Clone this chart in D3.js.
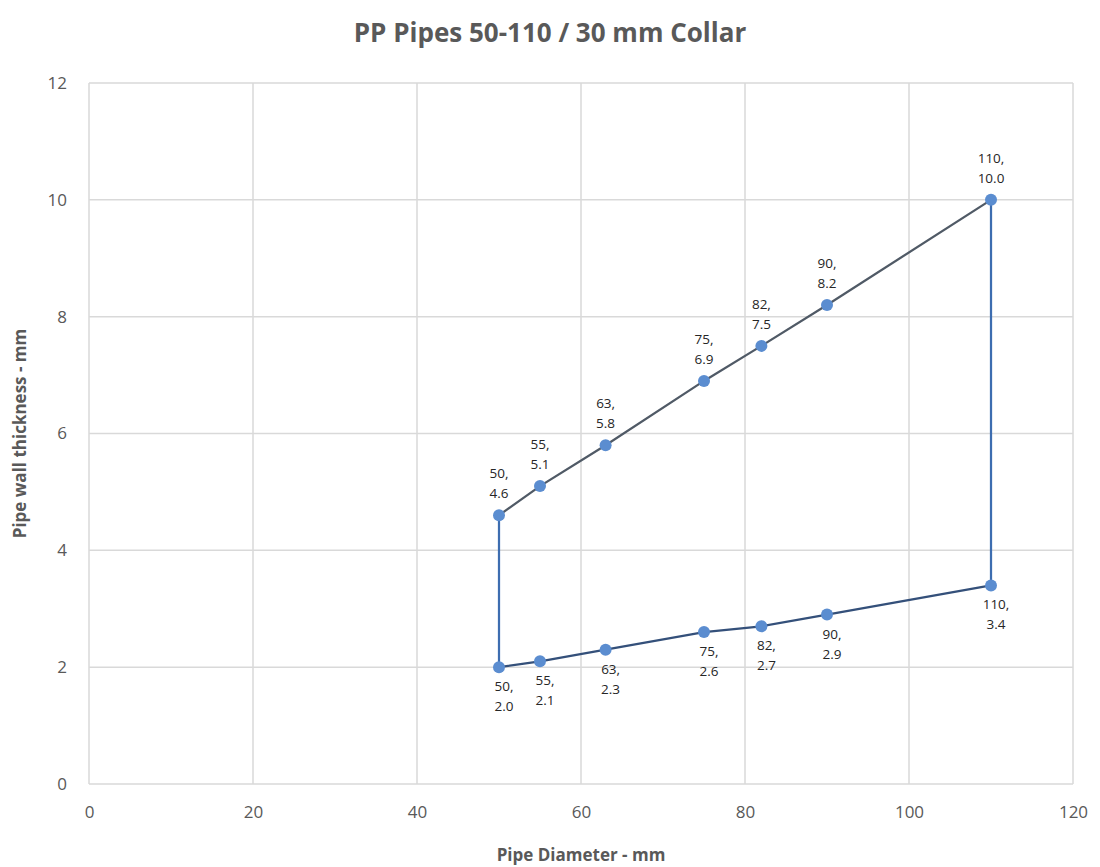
<!DOCTYPE html>
<html>
<head>
<meta charset="utf-8">
<script src="https://cdn.jsdelivr.net/npm/d3@7"></script>
<style>
  body { margin: 0; background: #fff; }
  text { font-family: "Open Sans", "Noto Sans", sans-serif; }
</style>
</head>
<body>
<div id="chart"></div>
<script>
// pipe diameters (mm)
var diameters = [50, 55, 63, 75, 82, 90, 110];
// max and min wall thickness (mm)
var thickMax = [4.6, 5.1, 5.8, 6.9, 7.5, 8.2, 10.0];
var thickMin = [2.0, 2.1, 2.3, 2.6, 2.7, 2.9, 3.4];
var xTicks = [0, 20, 40, 60, 80, 100, 120];
var yTicks = [0, 2, 4, 6, 8, 10, 12];

var W = 1100, H = 867;
var margin = {top: 83, right: 27, bottom: 83, left: 89};
var width = W - margin.left - margin.right,
    height = H - margin.top - margin.bottom;

var svg = d3.select("#chart").append("svg")
    .attr("width", W).attr("height", H);

svg.append("text")
   .attr("x", 550).attr("y", 42)
   .attr("text-anchor", "middle")
   .style("font-size", "26px").style("font-weight", "bold")
   .style("fill", "#595959")
   .text("PP Pipes 50-110 / 30 mm Collar");

var g = svg.append("g")
    .attr("transform", "translate(" + margin.left + "," + margin.top + ")");

var x = d3.scaleLinear().domain([0, 120]).range([0, width]);
var y = d3.scaleLinear().domain([0, 12]).range([height, 0]);

// gridlines
g.selectAll(".vgrid").data(xTicks).enter().append("line")
  .attr("x1", d => x(d)).attr("x2", d => x(d))
  .attr("y1", 0).attr("y2", height)
  .style("stroke", "#d9d9d9").style("stroke-width", 1.5);
g.selectAll(".hgrid").data(yTicks).enter().append("line")
  .attr("x1", 0).attr("x2", width)
  .attr("y1", d => y(d)).attr("y2", d => y(d))
  .style("stroke", "#d9d9d9").style("stroke-width", 1.5);

// axes (labels only)
var xAxis = g.append("g")
   .attr("transform", "translate(0," + height + ")")
   .call(d3.axisBottom(x).tickValues(xTicks).tickSize(0).tickPadding(22));
var yAxis = g.append("g")
   .call(d3.axisLeft(y).tickValues(yTicks).tickSize(0).tickPadding(22));
[xAxis, yAxis].forEach(function(a) {
  a.select(".domain").remove();
  a.selectAll("text").style("font-size", "17px").style("fill", "#595959")
   .style("font-family", "'Open Sans', sans-serif");
});

svg.append("text")
   .attr("x", margin.left + width / 2).attr("y", 861)
   .attr("text-anchor", "middle")
   .style("font-size", "17px").style("font-weight", "bold").style("fill", "#595959")
   .text("Pipe Diameter - mm");

svg.append("text")
   .attr("transform", "translate(26," + (margin.top + height / 2) + ") rotate(-90)")
   .attr("text-anchor", "middle")
   .style("font-size", "17px").style("font-weight", "bold").style("fill", "#595959")
   .text("Pipe wall thickness - mm");

var upper = diameters.map((d, i) => ({x: d, y: thickMax[i]}));
var lower = diameters.map((d, i) => ({x: d, y: thickMin[i]}));
var line = d3.line().x(d => x(d.x)).y(d => y(d.y));

// vertical connectors at the ends
var n = diameters.length - 1;
[[upper[0], lower[0]], [upper[n], lower[n]]].forEach(function(seg) {
  g.append("path").attr("d", line(seg))
   .style("fill", "none").style("stroke", "#3d6db0").style("stroke-width", 2.25);
});

g.append("path").attr("d", line(upper))
 .style("fill", "none").style("stroke", "#505a66").style("stroke-width", 2.25);
g.append("path").attr("d", line(lower))
 .style("fill", "none").style("stroke", "#34507a").style("stroke-width", 2.25);

g.selectAll(".pt").data(upper.concat(lower)).enter().append("circle")
 .attr("cx", d => x(d.x)).attr("cy", d => y(d.y)).attr("r", 6)
 .style("fill", "#5b8dd0");

function addLabels(data, dy0, dx) {
  var lab = g.selectAll(null).data(data).enter().append("text")
    .attr("text-anchor", "middle")
    .style("font-size", "13.5px").style("fill", "#262626");
  lab.append("tspan")
    .attr("x", d => x(d.x) + dx).attr("y", d => y(d.y) + dy0)
    .text(d => d.x + ",");
  lab.append("tspan")
    .attr("x", d => x(d.x) + dx).attr("y", d => y(d.y) + dy0 + 20)
    .text(d => d.y.toFixed(1));
}
addLabels(upper, -37, 0);
addLabels(lower, 24, 5);
</script>
</body>
</html>
